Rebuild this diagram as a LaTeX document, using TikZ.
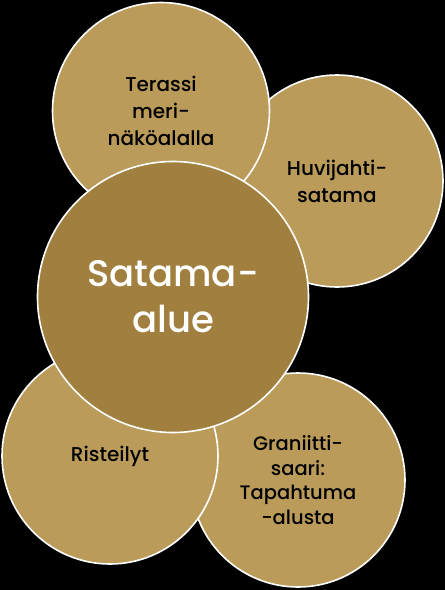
\documentclass[tikz,border=0pt]{standalone}
\usepackage{fontspec}
\setmainfont{Poppins}[UprightFont=* Medium]
\definecolor{outergold}{HTML}{BA9B5A}
\definecolor{innergold}{HTML}{A17F3E}
\begin{document}
\begin{tikzpicture}[x=1pt,y=1pt,
  bubble/.style={circle,draw=white,line width=1.6pt,fill=outergold,inner sep=0pt,
     minimum size=#1},
  smalltxt/.style={align=center,font=\fontsize{20}{27}\selectfont,text=black},
  bigtxt/.style={align=center,font=\fontsize{37}{46}\selectfont,text=white}]
\fill[black] (0,0) rectangle (445,-590);
\useasboundingbox (0,0) rectangle (445,-590);
\node[bubble=214pt] (gran) at (298,-480) {};
\node[bubble=212pt] (huvi) at (337,-181) {};
\node[bubble=217pt] (ter) at (161,-111) {};
\node[bubble=216pt] (ris) at (110,-456) {};
\node[bubble=271pt,fill=innergold] (sat) at (173,-297) {};
\node[smalltxt,font=\fontsize{19.5}{24.5}\selectfont] (tgran) at (gran.center) {Graniitti-\\saari:\\Tapahtuma\\-alusta};
\node[smalltxt] (thuvi) at (huvi.center) {Huvijahti-\\satama};
\node[smalltxt] (tter) at (ter.center) {Terassi\\meri-\\näköalalla};
\node[smalltxt] (tris) at (ris.center) {Risteilyt};
\node[bigtxt] (tsat) at (sat.center) {Satama-\\alue};
\end{tikzpicture}
\end{document}
